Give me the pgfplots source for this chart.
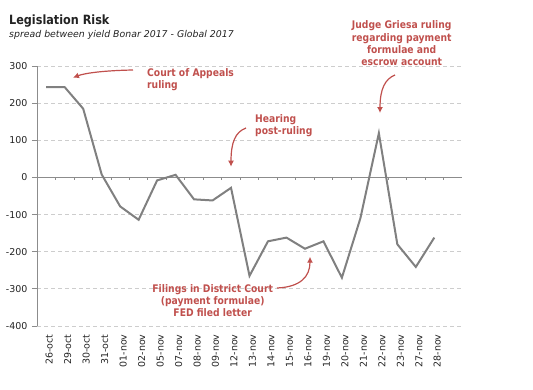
\documentclass[border=0pt]{standalone}
\usepackage{fontspec}
\setmainfont{DejaVu Sans}
\newfontfamily\annfont{DejaVu Sans}[FakeStretch=0.88]
\usepackage{pgfplots}
\pgfplotsset{compat=1.18}
\usetikzlibrary{arrows.meta}
\definecolor{annred}{RGB}{192,80,77}
\definecolor{linegray}{RGB}{128,128,128}
\definecolor{axgray}{RGB}{140,140,140}
\definecolor{gridgray}{RGB}{205,205,205}
\definecolor{ticktext}{RGB}{35,35,35}
\begin{document}
\begin{tikzpicture}[x=1bp,y=1bp]
\useasboundingbox (0,0) rectangle (533,389);
\node[anchor=base west, inner sep=0, font=\annfont\bfseries\fontsize{12.8}{14}\selectfont, text=ticktext] at (9,365) {Legislation Risk};
\node[anchor=base west, inner sep=0, font=\itshape\fontsize{9.4}{11}\selectfont, text=ticktext] at (9,352) {spread between yield Bonar 2017 - Global 2017};
\begin{axis}[
  at={(37bp,63bp)}, anchor=south west,
  scale only axis, width=425bp, height=260bp,
  xmin=-0.5, xmax=22.5, ymin=-400, ymax=300,
  ytick={-400,-300,-200,-100,0,100,200,300},
  xtick={0,...,21},
  xticklabels={26-oct,29-oct,30-oct,31-oct,01-nov,02-nov,05-nov,07-nov,08-nov,09-nov,12-nov,13-nov,14-nov,15-nov,16-nov,19-nov,20-nov,21-nov,22-nov,23-nov,27-nov,28-nov},
  axis lines*=left,
  x axis line style={draw=none},
  y axis line style={draw=axgray, line width=1bp},
  ymajorgrids,
  grid style={dash pattern=on 4bp off 3bp, draw=gridgray, line width=0.8bp},
  tick align=outside,
  ytick style={draw=axgray, line width=1bp},
  xtick style={draw=none},
  major tick length=5bp,
  /pgf/number format/assume math mode=true,
  yticklabel style={font=\fontsize{9.5}{11}\selectfont, text=ticktext, xshift=-1bp},
  xticklabel style={font=\fontsize{9.5}{11}\selectfont, text=ticktext, rotate=90, anchor=east, yshift=-3bp},
  clip=false,
]
\draw[axgray, line width=1bp] (axis cs:-0.5,0) -- (axis cs:22.5,0);
\pgfplotsinvokeforeach{0.5,1.5,...,21.5}{\draw[axgray, line width=0.8bp] (axis cs:#1,0) -- ([yshift=-3bp]axis cs:#1,0);}
\addplot[linegray, line width=2bp, no marks] coordinates {
(0,243) (1,243) (2,185) (3,8) (4,-78) (5,-114) (6,-8) (7,7) (8,-59) (9,-62) (10,-28)
(11,-265) (12,-172) (13,-162) (14,-192) (15,-172) (16,-270) (17,-110) (18,119) (19,-180) (20,-241) (21,-162)
};
\end{axis}
\begin{scope}[annred, font=\annfont\bfseries\fontsize{10.5}{12.2}\selectfont]
\node[anchor=west, align=left, inner sep=0, text=annred] at (147,309) {Court of Appeals\\ruling};
\node[anchor=west, align=left, inner sep=0, text=annred] at (255,263.5) {Hearing\\post-ruling};
\node[align=center, inner sep=0, text=annred] at (401.7,345.7) {Judge Griesa ruling\\regarding payment\\formulae and\\escrow account};
\node[align=center, inner sep=0, text=annred] at (212.7,88.5) {Filings in District Court\\(payment formulae)\\FED filed letter};
\draw[line width=1.2bp, -{Latex[length=6bp,width=6bp]}] (133,319) .. controls (105,318.5) and (85,316) .. (73,311.3);
\draw[line width=1.2bp, -{Latex[length=6bp,width=6bp]}] (246,261) .. controls (235,257) and (231,246) .. (231,222.3);
\draw[line width=1.2bp, -{Latex[length=6bp,width=6bp]}] (395,314) .. controls (385,310) and (380,300) .. (380,276);
\draw[line width=1.2bp, -{Latex[length=6bp,width=6bp]}] (277,101) .. controls (300,102) and (310,112) .. (310,132.3);
\end{scope}
\end{tikzpicture}
\end{document}
